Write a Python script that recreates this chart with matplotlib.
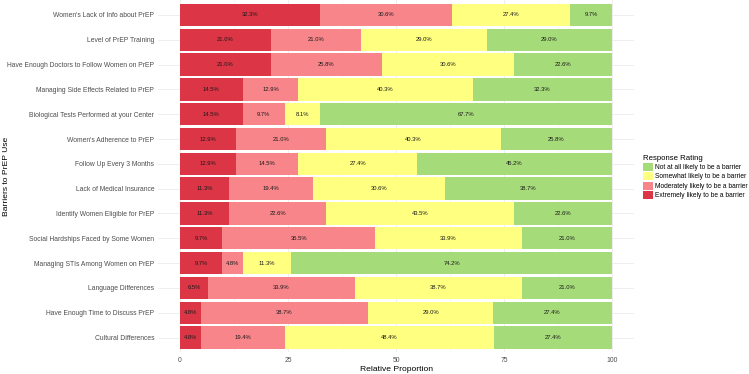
import matplotlib
matplotlib.use("Agg")
import matplotlib.pyplot as plt
import numpy as np
from matplotlib.patches import Patch

plt.rcParams['font.family'] = ['Liberation Sans', 'DejaVu Sans']

# barriers, top to bottom
barriers = [
    "Women's Lack of Info about PrEP",
    "Level of PrEP Training",
    "Have Enough Doctors to Follow Women on PrEP",
    "Managing Side Effects Related to PrEP",
    "Biological Tests Performed at your Center",
    "Women's Adherence to PrEP",
    "Follow Up Every 3 Months",
    "Lack of Medical Insurance",
    "Identify Women Eligible for PrEP",
    "Social Hardships Faced by Some Women",
    "Managing STIs Among Women on PrEP",
    "Language Differences",
    "Have Enough Time to Discuss PrEP",
    "Cultural Differences",
]
extremely  = [32.3, 21.0, 21.0, 14.5, 14.5, 12.9, 12.9, 11.3, 11.3, 9.7, 9.7, 6.5, 4.8, 4.8]
moderately = [30.6, 21.0, 25.8, 12.9, 9.7, 21.0, 14.5, 19.4, 22.6, 35.5, 4.8, 33.9, 38.7, 19.4]
somewhat   = [27.4, 29.0, 30.6, 40.3, 8.1, 40.3, 27.4, 30.6, 43.5, 33.9, 11.3, 38.7, 29.0, 48.4]
not_at_all = [9.7, 29.0, 22.6, 32.3, 67.7, 25.8, 45.2, 38.7, 22.6, 21.0, 74.2, 21.0, 27.4, 27.4]

levels = ["Extremely likely to be a barrier", "Moderately likely to be a barrier",
          "Somewhat likely to be a barrier", "Not at all likely to be a barrier"]
colors = ["#DC3545", "#F8858A", "#FFFF80", "#A6DB7A"]
series = [extremely, moderately, somewhat, not_at_all]

fig = plt.figure(figsize=(7.49, 3.74), dpi=100)
ax = fig.add_axes([0.2115, 0.0575, 0.846 - 0.2115, 1 - 0.0575])

y = np.arange(len(barriers))[::-1]
left = np.zeros(len(barriers))
for vals, col in zip(series, colors):
    vals = np.array(vals)
    ax.barh(y, vals, left=left, height=0.9, color=col, linewidth=0, zorder=2)
    for yi, l, v in zip(y, left, vals):
        ax.text(l + v / 2, yi, f"{v:.1f}%", ha='center', va='center',
                fontsize=4.2, color='#1a1a1a', zorder=3)
    left += vals

ax.set_xlim(-5, 105)
ax.set_ylim(-0.6, len(barriers) - 0.4)
ax.set_yticks(y)
ax.set_yticklabels(barriers)
ax.set_xticks([0, 25, 50, 75, 100])
ax.set_xticks([12.5, 37.5, 62.5, 87.5], minor=True)
ax.tick_params(axis='both', length=0, labelsize=4.9, colors='#4D4D4D', pad=3)
ax.tick_params(axis='x', which='minor', length=0)
ax.grid(True, which='major', color='#EBEBEB', linewidth=0.6, zorder=0)
ax.grid(True, which='minor', axis='x', color='#F2F2F2', linewidth=0.4, zorder=0)
for s in ax.spines.values():
    s.set_visible(False)
ax.set_xlabel("Relative Proportion", fontsize=6.1, labelpad=2)
fig.text(7 / 749, 1 - 176 / 374, "Barriers to PrEP Use", rotation=90,
         ha='center', va='center', fontsize=6.1)

handles = [Patch(facecolor=c, edgecolor='none') for c in colors[::-1]]
leg = fig.legend(handles, levels[::-1], title="Response Rating", loc='center left',
                 bbox_to_anchor=(0.8585, 0.527), frameon=False, fontsize=4.75,
                 title_fontsize=5.6, handlelength=1.45, handleheight=1.45,
                 handletextpad=0.3, labelspacing=0.2, borderpad=0,
                 borderaxespad=0, alignment='left')

fig.savefig("out.png", dpi=100)
